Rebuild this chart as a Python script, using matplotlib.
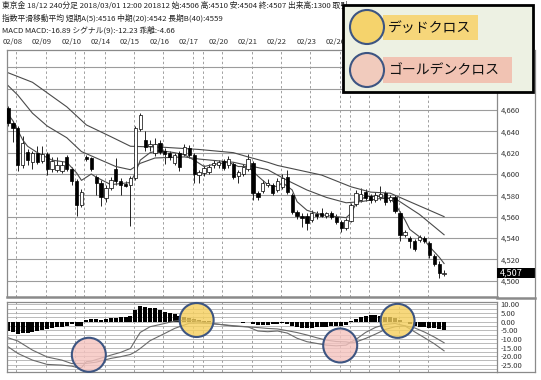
import matplotlib
matplotlib.use("Agg")
import matplotlib.pyplot as plt
from matplotlib.patches import Rectangle, Circle
from matplotlib.lines import Line2D
import numpy as np

plt.rcParams['font.family'] = ['Noto Sans CJK JP', 'DejaVu Sans']

# ---------------- data ----------------
opens = [4662,4648,4643,4608,4621,4611,4620,4612,4619,4605,
         4604,4603,4616,4605,4593,4571,4616,4615,4597,4592,
         4577,4587,4605,4593,4591,4590,4596,4642,4632,4626,
         4620,4629,4622,4620,4610,4620,4619,4624,4618,4599,
         4601,4602,4608,4608,4612,4608,4609,4598,4600,4605,
         4610,4582,4584,4590,4590,4585,4588,4597,4580,4564,
         4561,4561,4557,4562,4563,4561,4563,4560,4555,4549,
         4556,4572,4576,4583,4579,4576,4578,4582,4576,4578,
         4563,4543,4540,4537,4538,4540,4535,4523,4516,4506]
highs = [4664,4650,4645,4636,4623,4622,4626,4626,4621,4616,
         4616,4612,4618,4607,4595,4586,4618,4616,4599,4594,
         4590,4597,4615,4596,4593,4598,4645,4657,4640,4632,
         4634,4632,4624,4622,4620,4622,4628,4627,4620,4604,
         4608,4609,4613,4613,4614,4617,4611,4604,4609,4619,
         4612,4584,4594,4595,4592,4596,4600,4604,4582,4566,
         4563,4563,4566,4565,4568,4564,4565,4562,4557,4559,
         4573,4585,4587,4586,4581,4583,4589,4584,4580,4580,
         4565,4547,4542,4539,4543,4542,4537,4525,4518,4510]
lows = [4645,4630,4603,4606,4608,4605,4609,4610,4599,4602,
        4602,4601,4603,4590,4561,4569,4612,4603,4580,4570,
        4574,4585,4590,4580,4588,4551,4594,4640,4622,4622,
        4617,4619,4609,4613,4608,4603,4617,4615,4592,4592,
        4598,4600,4606,4606,4604,4606,4595,4592,4598,4603,
        4576,4576,4582,4588,4580,4583,4586,4581,4562,4558,
        4550,4547,4555,4558,4560,4559,4558,4553,4546,4547,
        4555,4570,4574,4575,4573,4574,4576,4571,4574,4563,
        4537,4541,4531,4528,4536,4535,4521,4514,4502,4504]
closes = [4648,4643,4608,4629,4613,4620,4611,4619,4605,4612,
          4608,4608,4605,4593,4571,4583,4614,4605,4592,4578,
          4587,4594,4593,4590,4589,4596,4643,4655,4625,4628,
          4628,4621,4619,4616,4618,4607,4625,4618,4600,4602,
          4606,4607,4610,4611,4606,4614,4597,4602,4607,4614,
          4582,4578,4592,4592,4582,4593,4596,4583,4564,4561,
          4559,4554,4563,4561,4561,4563,4560,4555,4549,4557,
          4571,4582,4581,4577,4576,4580,4581,4574,4578,4565,
          4543,4546,4537,4530,4541,4537,4524,4516,4507,4507]

# moving averages (read at selected bars)
ema5_idx = [0,1,3,4,6,9,12,14,15,17,18,21,23,25,26,27,29,31,34,36,38,40,42,45,47,49,51,53,55,56,58,59,61,63,65,67,69,70,71,73,76,78,79,81,82,84,85,86,88,89]
ema5_val = [4656,4650,4632,4626,4620,4613,4611,4601,4594,4600,4597,4590,4591,4592,4601,4613,4620,4622,4620,4618,4613,4607,4609,4611,4607,4607,4598,4590,4588,4592,4585,4574,4566,4563,4561,4560,4559,4563,4572,4579,4579,4577,4572,4557,4548,4541,4538,4532,4522,4516]
ma20_idx = [0,2,5,8,12,15,19,22,25,27,30,36,39,46,50,53,55,57,61,65,69,72,76,79,84,89]
ma20_val = [4683,4674,4657,4645,4634,4621,4613,4607,4604,4610,4615,4616,4614,4611,4607,4604,4599,4594,4585,4578,4573,4574,4577,4577,4562,4543]
ma40_idx = [0,5,12,16,21,25,32,39,46,49,53,55,58,64,70,74,78,81,85,89]
ma40_val = [4695,4686,4663,4646,4635,4626,4625,4623,4620,4616,4611,4608,4605,4599,4588,4583,4582,4576,4568,4560]

# MACD
hist = [-5.4,-6.2,-7.4,-6.8,-6.4,-5.8,-5.4,-4.8,-4.3,-3.9,
        -3.3,-2.9,-2.3,-1.5,-2.3,-2.5,1.0,1.5,1.5,1.0,
        1.5,1.9,2.3,2.5,2.9,3.5,6.8,9.3,8.7,8.1,
        7.8,6.8,5.8,4.8,4.3,3.5,2.5,1.9,1.4,0.8,
        0.4,0.4,-0.2,0.0,0.0,-0.3,-0.3,-0.3,-0.5,0.0,
        -1.5,-2.0,-2.0,-1.8,-1.5,-1.2,-0.8,-1.4,-2.3,-3.3,
        -3.9,-3.9,-3.7,-3.3,-3.1,-2.9,-2.7,-2.5,-2.3,-1.9,
        0.4,1.5,2.9,3.5,3.9,3.9,3.5,2.9,2.5,1.9,
        1.0,0.0,-1.5,-2.3,-2.9,-3.3,-3.5,-3.9,-4.3,-4.66]
macd_idx = [0,2,5,8,11,13,14,15,16,17,18,21,23,25,26,27,29,32,34,37,39,41,43,46,49,51,53,55,57,59,61,63,65,67,69,70,71,73,75,77,79,81,83,85,87,89]
macd_val = [-14.5,-18.4,-22.3,-24.8,-25.2,-25.8,-26.5,-26.7,-23.2,-22.9,-22.0,-19.4,-17.8,-15.5,-10.7,-6.2,-2.9,-1.0,0.4,1.0,0.0,-0.8,-1.5,-2.6,-3.0,-5.4,-5.8,-5.4,-6.6,-9.6,-11.6,-12.6,-13.6,-14.0,-13.6,-11.8,-10.3,-6.2,-3.3,-1.6,-1.0,-2.4,-5.9,-9.3,-12.8,-16.9]
sig_idx = [0,2,5,8,11,13,16,18,21,23,25,26,27,29,32,34,37,39,41,43,46,49,51,53,55,57,59,61,63,65,67,69,70,71,73,75,77,79,81,83,85,87,89]
sig_val = [-9.3,-11.2,-16.5,-20.5,-22.3,-24.3,-24.2,-23.5,-21.3,-20.3,-19.0,-17.5,-15.5,-11.0,-6.8,-3.9,-0.9,-0.8,-1.0,-1.5,-2.3,-3.0,-3.4,-3.9,-4.2,-5.2,-6.3,-7.7,-9.3,-10.7,-11.5,-11.7,-12.2,-11.8,-9.7,-7.2,-4.5,-2.9,-2.4,-3.6,-6.0,-8.9,-12.2]

date_labels = ['02/08','02/09','02/10','02/14','02/15','02/16','02/17','02/20',
               '02/21','02/22','02/23','02/26','02/27','02/28','03/01']
price_ticks = [4500,4520,4540,4560,4580,4600,4620,4640,4660,4680,4700]
macd_ticks = [10,5,0,-5,-10,-15,-20,-25]
last_price = 4507

# crosses marked on the MACD panel: (bar, value)
dead_cross = [(38.5, 1.0), (79.5, 0.5)]
golden_cross = [(16.5, -19.2), (67.8, -13.8)]

header = ["東京金 18/12 240分足 2018/03/01 12:00 201812 始:4506 高:4510 安:4504 終:4507 出来高:1300 取引",
          "指数平滑移動平均 短期A(5):4516 中期(20):4542 長期B(40):4559",
          "MACD MACD:-16.89 シグナル(9):-12.23 乖離:-4.66"]

# ---------------- figure ----------------
W, H = 541, 380
fig = plt.figure(figsize=(W/100, H/100), dpi=100)
fig.patch.set_facecolor('white')

def fy(py):
    return 1 - py/H

ax = fig.add_axes([7/W, 1-297/H, 490/W, 247/H])
axm = fig.add_axes([7/W, 1-372/H, 490/W, 70/H])

n = len(opens)
x = np.arange(n)
XL = (-0.2, 99.8)
grid_c = '#9c9c9c'

# day separators (bar positions)
day_sep = list(1.7 + 6*np.arange(15)) + [15.6, 39.7, 69.7]

for a in (ax, axm):
    a.set_xlim(*XL)
    a.set_xticks([])
    for sp in a.spines.values():
        sp.set_color('#8a8a8a')
        sp.set_linewidth(0.9)
    for s in day_sep:
        a.axvline(s, color='#a0a0a0', lw=0.7, ls=(0, (2.5, 2.5)), zorder=0.5)

# main panel
ax.set_ylim(4484.6, 4716.3)
ax.yaxis.tick_right()
ax.set_yticks(price_ticks)
ax.set_yticklabels([f"{t:,}" for t in price_ticks])
ax.tick_params(axis='y', length=0, pad=2.5, labelsize=5.5, labelcolor='#333333')
for t in price_ticks:
    ax.axhline(t, color=grid_c, lw=0.8, zorder=0.6)
ax.spines['bottom'].set_linewidth(1.8)

o = np.array(opens); c = np.array(closes)
up = c >= o
ax.vlines(x, lows, highs, color='black', lw=0.6, zorder=2)
body_h = np.maximum(np.abs(c - o), 0.6)
body_b = np.minimum(o, c)
ax.bar(x[up], body_h[up], bottom=body_b[up], width=0.68, color='white',
       edgecolor='black', linewidth=0.5, zorder=3)
ax.bar(x[~up], body_h[~up], bottom=body_b[~up], width=0.68, color='black',
       edgecolor='black', linewidth=0.5, zorder=3)

ma_c = '#4a4a4a'
ax.plot(ma40_idx, ma40_val, color=ma_c, lw=0.8, zorder=2.5)
ax.plot(ma20_idx, ma20_val, color=ma_c, lw=0.8, zorder=2.5)
ax.plot(ema5_idx, ema5_val, color=ma_c, lw=0.8, zorder=2.5)

# date labels above the panel
for k, lab in enumerate(date_labels):
    ax.annotate(lab, xy=(0.9 + 6*k, fy(42)), xycoords=('data', 'figure fraction'),
                ha='center', va='center', fontsize=5.5, color='#333333',
                annotation_clip=False)

# MACD panel
axm.set_ylim(-29.2, 11.45)
axm.yaxis.tick_right()
axm.set_yticks(macd_ticks)
axm.set_yticklabels([f"{t:.2f}" for t in macd_ticks])
axm.tick_params(axis='y', length=0, pad=2.5, labelsize=5.5, labelcolor='#333333')
for g in np.arange(-27.5, 11, 2.5):
    axm.axhline(g, color='#b0b0b0', lw=0.6, zorder=0.6)
axm.bar(x, hist, width=0.82, color='black', zorder=2)
axm.plot(macd_idx, macd_val, color='#6a6a6a', lw=0.8, zorder=2.5)
axm.plot(sig_idx, sig_val, color='#6a6a6a', lw=0.8, zorder=2.5)

# header text
for i, line in enumerate(header):
    fig.text(2/W, fy(6 + 12.3*i), line, fontsize=5.6, va='center', ha='left',
             color='#222222')

# ---------------- overlay (pixel coords) ----------------
ov = fig.add_axes([0, 0, 1, 1], zorder=10)
ov.set_xlim(0, W); ov.set_ylim(H, 0)
ov.axis('off')
ov.patch.set_alpha(0)

# outer frame on right
ov.add_line(Line2D([535, 535], [50, 372], color='#8a8a8a', lw=0.9))
ov.add_line(Line2D([497, 535], [372, 372], color='#8a8a8a', lw=0.9))
ov.add_line(Line2D([497, 535], [298, 298], color='#8a8a8a', lw=1.8))

fig.canvas.draw()

def to_px(a, xd, yd):
    px, py = a.transData.transform((xd, yd))
    return px, H - py

# current price box
_, py = to_px(ax, 0, last_price)
ov.add_patch(Rectangle((497, py - 5), 38, 10, facecolor='black', edgecolor='none'))
ov.text(500, py, f"{last_price:,}", color='white', fontsize=6.5, va='center', ha='left')

edge_c = '#3d5582'
yel = '#f5cf5c'
pnk = '#f5c3bf'
for (bx, bv) in dead_cross:
    cx, cy = to_px(axm, bx, bv)
    ov.add_patch(Circle((cx, cy), 17, facecolor=yel, alpha=0.8, edgecolor='none'))
    ov.add_patch(Circle((cx, cy), 17, facecolor='none', edgecolor=edge_c, lw=1.5))
for (bx, bv) in golden_cross:
    cx, cy = to_px(axm, bx, bv)
    ov.add_patch(Circle((cx, cy), 17, facecolor=pnk, alpha=0.8, edgecolor='none'))
    ov.add_patch(Circle((cx, cy), 17, facecolor='none', edgecolor=edge_c, lw=1.5))

# legend box
ov.add_patch(Rectangle((343, 5), 190, 87, facecolor='#edf1e3', edgecolor='black', lw=2))
ov.add_patch(Rectangle((383, 15), 95, 25, facecolor='#f6d67a', edgecolor='none'))
ov.add_patch(Rectangle((383, 57), 129, 26, facecolor='#f1c3b3', edgecolor='none'))
ov.add_patch(Circle((367, 27), 17, facecolor='#f5d36c', edgecolor=edge_c, lw=1.5))
ov.add_patch(Circle((367, 70), 17, facecolor='#f1cbbd', edgecolor=edge_c, lw=1.5))
ov.text(388, 28, 'デッドクロス', fontsize=10, va='center', ha='left', color='#111111')
ov.text(388, 70, 'ゴールデンクロス', fontsize=10, va='center', ha='left', color='#111111')

fig.savefig('out.png', dpi=100)
